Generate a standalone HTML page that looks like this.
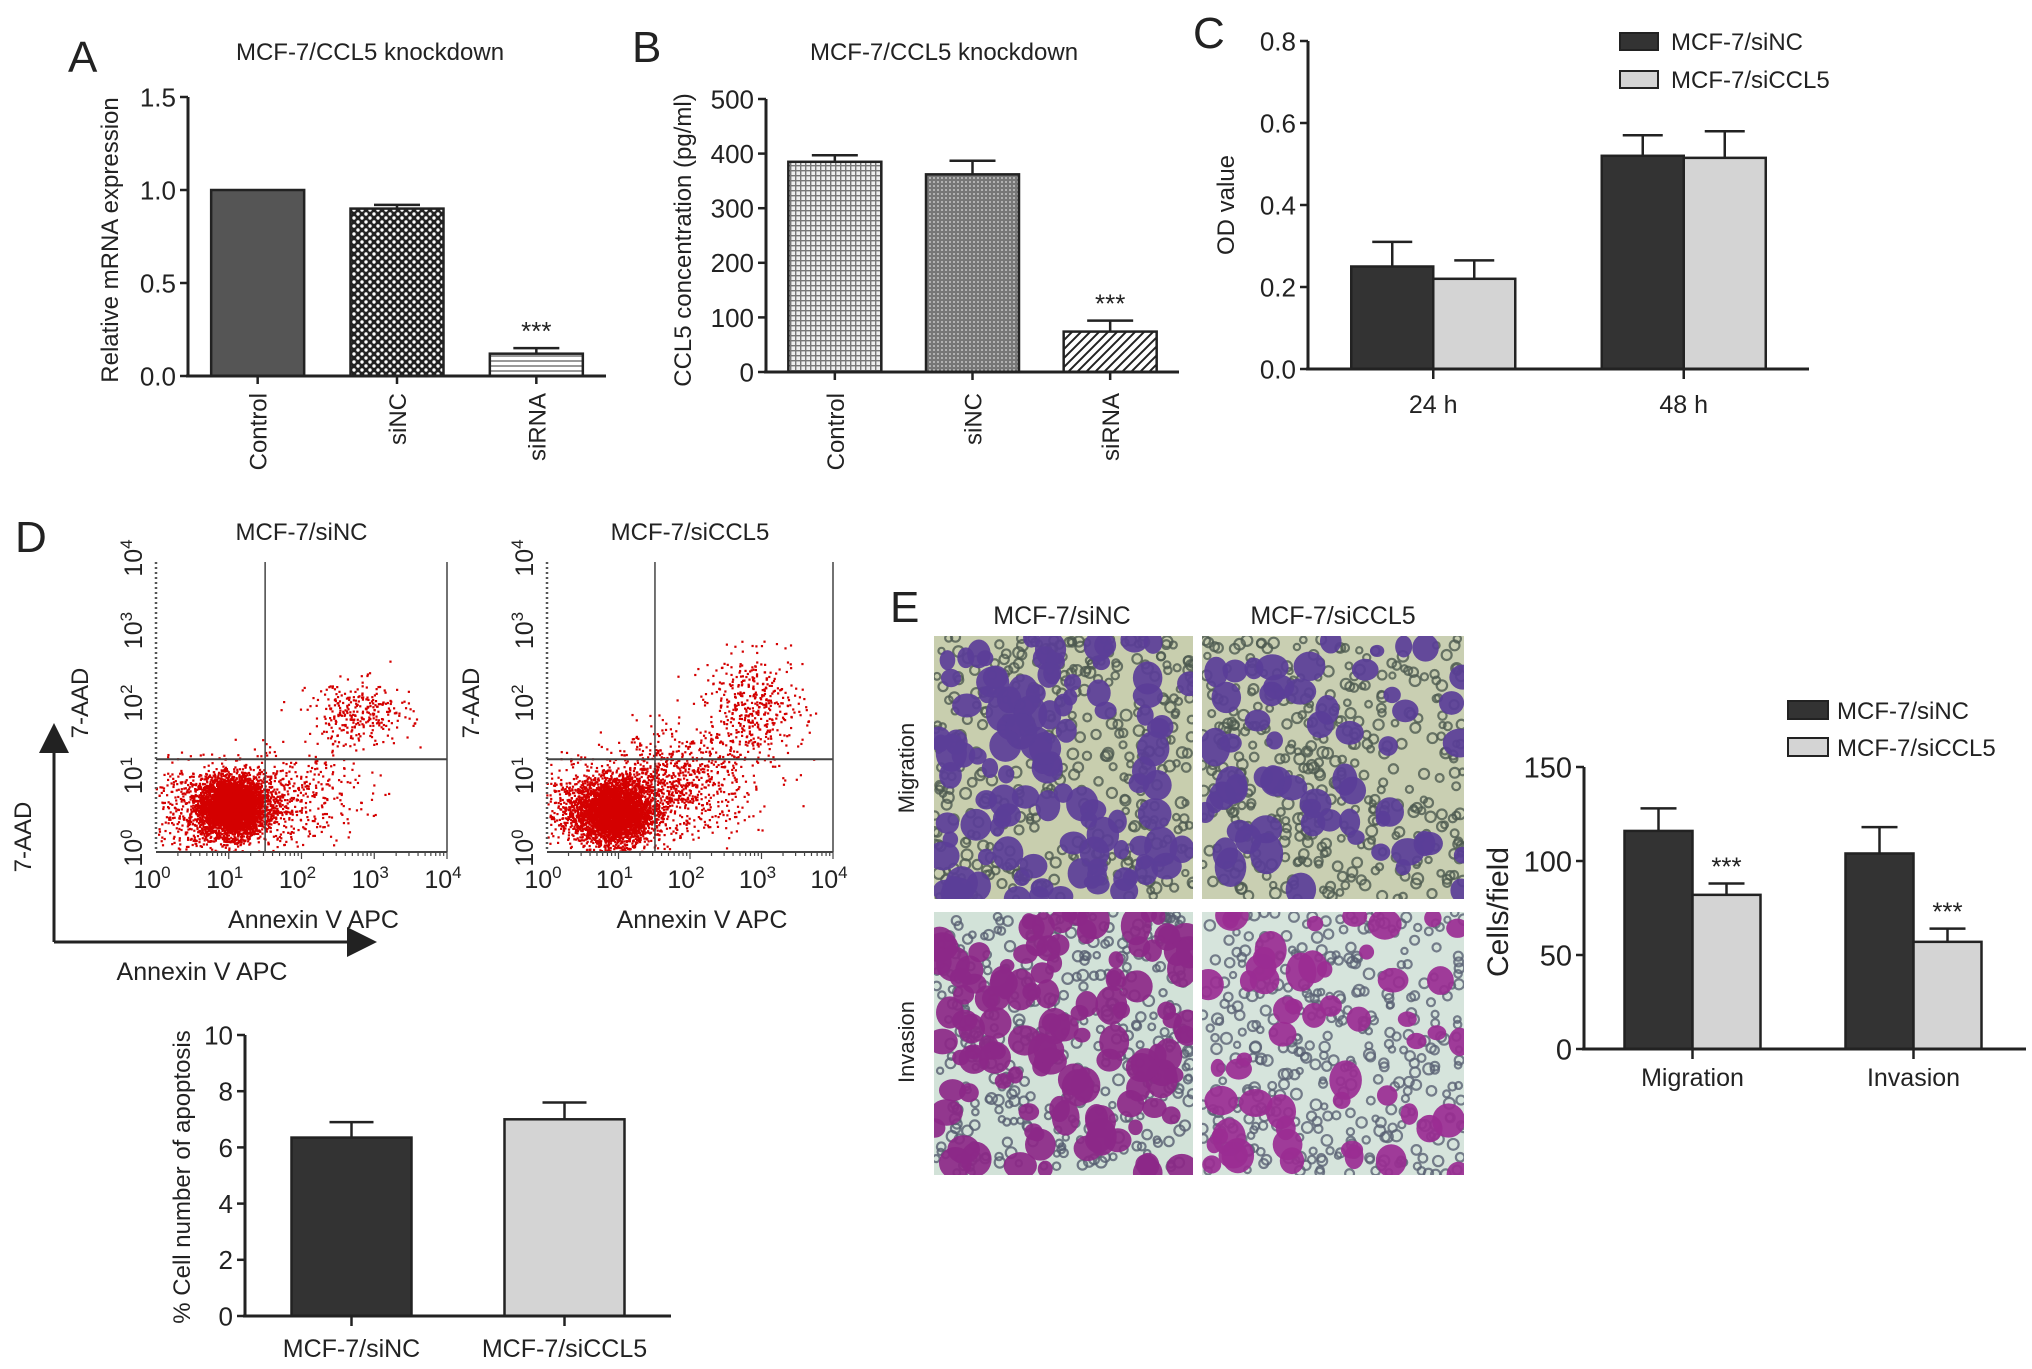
<!DOCTYPE html>
<html><head><meta charset="utf-8"><style>
html,body{margin:0;padding:0;background:#fff;}
svg{display:block;}
text{font-family:"Liberation Sans Narrow","Liberation Sans",sans-serif;fill:#222;}
.w{font-family:"Liberation Sans",sans-serif;}
</style></head><body>
<svg id="fig" width="2032" height="1369" viewBox="0 0 2032 1369" xmlns="http://www.w3.org/2000/svg">
<defs>
<pattern id="pChecker" width="8" height="8" patternUnits="userSpaceOnUse"><rect width="8" height="8" fill="#222"/><circle cx="2" cy="2" r="1.7" fill="#fff"/><circle cx="6" cy="6" r="1.7" fill="#fff"/></pattern>
<pattern id="pHstripe" width="6" height="5" patternUnits="userSpaceOnUse"><rect width="6" height="5" fill="#fff"/><rect y="0" width="6" height="2" fill="#999"/></pattern>
<pattern id="pGrid" width="5" height="5" patternUnits="userSpaceOnUse"><rect width="5" height="5" fill="#eee"/><rect width="5" height="1.4" fill="#777"/><rect width="1.4" height="5" fill="#777"/></pattern>
<pattern id="pDots" width="4" height="4" patternUnits="userSpaceOnUse"><rect width="4" height="4" fill="#777"/><circle cx="2" cy="2" r="0.9" fill="#ddd"/></pattern>
<pattern id="pDiag" width="9" height="9" patternUnits="userSpaceOnUse"><rect width="9" height="9" fill="#fff"/><path d="M-2,11 L11,-2 M-2,2 L2,-2 M7,11 L11,7" stroke="#222" stroke-width="2"/></pattern>
<marker id="arrow" markerWidth="10" markerHeight="10" refX="5" refY="5" orient="auto"><path d="M0,0 L10,5 L0,10 Z" fill="#222"/></marker>
</defs>
<g id="root"></g>
</svg>
<script>
// ---------- DATA ----------
const aCategories = ["Control","siNC","siRNA"];
const aValues = [1.0, 0.90, 0.12];
const aErrors = [0.0, 0.02, 0.03];
const aTicks = ["0.0","0.5","1.0","1.5"];
const bCategories = ["Control","siNC","siRNA"];
const bValues = [385, 362, 74];
const bErrors = [12, 25, 20];
const bTicks = ["0","100","200","300","400","500"];
const cGroups = ["24 h","48 h"];
const cSiNC = [0.25, 0.52];
const cSiNCErr = [0.06, 0.05];
const cSiCCL5 = [0.22, 0.515];
const cSiCCL5Err = [0.045, 0.065];
const cTicks = ["0.0","0.2","0.4","0.6","0.8"];
const dGroups = ["MCF-7/siNC","MCF-7/siCCL5"];
const dValues = [6.35, 7.0];
const dErrors = [0.55, 0.6];
const dTicks = ["0","2","4","6","8","10"];
const eGroups = ["Migration","Invasion"];
const eSiNC = [116, 104];
const eSiNCErr = [12, 14];
const eSiCCL5 = [82, 57];
const eSiCCL5Err = [6, 7];
const eTicks = ["0","50","100","150"];
// flow cytometry clusters: [log10 annexin, log10 7-AAD, sdX, sdY, count]
const flowNC = [[1.05,0.62,0.22,0.2,4200],[1.6,0.7,0.45,0.3,600],[2.8,1.9,0.35,0.22,300],[2.6,0.9,0.3,0.35,60],[0.5,0.6,0.3,0.3,400]];
const flowCCL5 = [[0.95,0.55,0.26,0.22,3800],[1.7,0.9,0.45,0.35,800],[2.9,2.0,0.35,0.35,420],[2.5,1.1,0.4,0.4,120],[0.4,0.6,0.3,0.3,400]];

// ---------- HELPERS ----------
const NS="http://www.w3.org/2000/svg";
const root=document.getElementById('root');
function el(tag,attrs,parent,txt){const e=document.createElementNS(NS,tag);for(const k in attrs)e.setAttribute(k,attrs[k]);if(txt!==undefined)e.textContent=txt;(parent||root).appendChild(e);return e;}
function grp(name){const g=el('g',{},root);return g;}
let seed=12345;function rnd(){seed=(seed*1103515245+12345)%2147483648;return seed/2147483648;}
function gauss(){let u=rnd()||1e-9,v=rnd();return Math.sqrt(-2*Math.log(u))*Math.cos(2*Math.PI*v);}

function yAxis(g,x,y0,yTop,ticks,max,fs,tickLen){
  const line=el('line',{x1:x,y1:y0,x2:x,y2:yTop,stroke:'#222','stroke-width':3},g);
  
  ticks.forEach(t=>{const v=parseFloat(t);const y=y0-(v/max)*(y0-yTop);
    el('line',{x1:x-tickLen,y1:y,x2:x,y2:y,stroke:'#222','stroke-width':2.5},g);
    const tx=el('text',{x:x-tickLen-4,y:y+fs*0.36,'font-size':fs,'text-anchor':'end'},g,t);
    });
}
function xAxis(g,x1,x2,y){const l=el('line',{x1:x1-2,y1:y,x2:x2,y2:y,stroke:'#222','stroke-width':3},g);
  }
function bar(g,x,w,y0,yv,fill,name){const r=el('rect',{x:x,y:yv,width:w,height:y0-yv,fill:fill,stroke:'#222','stroke-width':2.5},g);
  return r;}
function err(g,cx,yv,ye,cap){if(ye>=yv-0.5)return;el('line',{x1:cx,y1:yv,x2:cx,y2:ye,stroke:'#222','stroke-width':2.5},g);
  const c=el('line',{x1:cx-cap,y1:ye,x2:cx+cap,y2:ye,stroke:'#222','stroke-width':2.5},g);
  }
function stars(g,cx,y,fs){const s=el('text',{x:cx,y:y,'font-size':fs,'text-anchor':'middle'},g,'***');
  }
function label(g,x,y,txt,fs,name,opts){const a=Object.assign({x:x,y:y,'font-size':fs,'text-anchor':'middle'},opts||{});const t=el('text',a,g,txt);
  return t;}

// ---------- PANEL A ----------
(function(){const g=grp('panel-a');
  const X0=188,X1=606,Y0=376,YT=97,MAX=1.5;const sy=v=>Y0-(v/MAX)*(Y0-YT);
  label(g,68,72,'A',44,'panel-label-a',{'text-anchor':'start',class:'w'});
  label(g,370,60,'MCF-7/CCL5 knockdown',24,'chart-title-a');
  label(g,0,0,'Relative mRNA expression',24,'y-axis-title-a',{class:'w',transform:'translate(118,240) rotate(-90)'});
  yAxis(g,X0,Y0,YT,aTicks,MAX,26,8);
  const fills=['#555','url(#pChecker)','url(#pHstripe)'];const band=(X1-X0)/3,w=93;
  aCategories.forEach((c,i)=>{const cx=X0+band*(i+0.5);
    bar(g,cx-w/2,w,Y0,sy(aValues[i]),fills[i],'bar-'+c.toLowerCase());
    err(g,cx,sy(aValues[i]),sy(aValues[i]+aErrors[i]),23);
    el('line',{x1:cx,y1:Y0,x2:cx,y2:Y0+8,stroke:'#222','stroke-width':2.5},g);
    label(g,0,0,c,24,'x-tick-label',{class:'w','text-anchor':'end',transform:`translate(${cx+9},393) rotate(-90)`});
  });
  stars(g,X0+band*2.5,sy(aValues[2]+aErrors[2])-8,26);
  xAxis(g,X0,X1,Y0);
})();

// ---------- PANEL B ----------
(function(){const g=grp('panel-b');
  const X0=766,X1=1179,Y0=372,YT=99,MAX=500;const sy=v=>Y0-(v/MAX)*(Y0-YT);
  label(g,632,62,'B',44,'panel-label-b',{'text-anchor':'start',class:'w'});
  label(g,944,60,'MCF-7/CCL5 knockdown',24,'chart-title-b');
  label(g,0,0,'CCL5 concentration (pg/ml)',24,'y-axis-title-b',{class:'w',transform:'translate(691,240) rotate(-90)'});
  yAxis(g,X0,Y0,YT,bTicks,MAX,26,8);
  const fills=['url(#pGrid)','url(#pDots)','url(#pDiag)'];const band=(X1-X0)/3,w=93;
  bCategories.forEach((c,i)=>{const cx=X0+band*(i+0.5);
    bar(g,cx-w/2,w,Y0,sy(bValues[i]),fills[i],'bar-'+c.toLowerCase());
    err(g,cx,sy(bValues[i]),sy(bValues[i]+bErrors[i]),23);
    el('line',{x1:cx,y1:Y0,x2:cx,y2:Y0+8,stroke:'#222','stroke-width':2.5},g);
    label(g,0,0,c,24,'x-tick-label',{class:'w','text-anchor':'end',transform:`translate(${cx+9},393) rotate(-90)`});
  });
  stars(g,X0+band*2.5,sy(bValues[2]+bErrors[2])-8,26);
  xAxis(g,X0,X1,Y0);
})();

// ---------- PANEL C ----------
(function(){const g=grp('panel-c');
  const X0=1308,X1=1809,Y0=369,YT=41,MAX=0.8;const sy=v=>Y0-(v/MAX)*(Y0-YT);
  label(g,1193,48,'C',44,'panel-label-c',{'text-anchor':'start',class:'w'});
  label(g,0,0,'OD value',24,'y-axis-title-c',{class:'w',transform:'translate(1234,205) rotate(-90)'});
  yAxis(g,X0,Y0,YT,cTicks,MAX,26,8);
  const band=(X1-X0)/2,w=82;
  cGroups.forEach((c,i)=>{const cx=X0+band*(i+0.5);
    bar(g,cx-w,w,Y0,sy(cSiNC[i]),'#333','bar-sinc-'+i);
    err(g,cx-w/2,sy(cSiNC[i]),sy(cSiNC[i]+cSiNCErr[i]),20);
    bar(g,cx,w,Y0,sy(cSiCCL5[i]),'#d4d4d4','bar-siccl5-'+i);
    err(g,cx+w/2,sy(cSiCCL5[i]),sy(cSiCCL5[i]+cSiCCL5Err[i]),20);
    el('line',{x1:cx,y1:Y0,x2:cx,y2:Y0+10,stroke:'#222','stroke-width':2.5},g);
    label(g,cx,413,c,25,'x-tick-label');
  });
  xAxis(g,X0,X1,Y0);
  const l1=el('rect',{x:1620,y:33,width:38,height:17,fill:'#333',stroke:'#222','stroke-width':2},g);
  label(g,1671,50,'MCF-7/siNC',24,'legend-entry',{'text-anchor':'start'});
  const l2=el('rect',{x:1620,y:71,width:38,height:17,fill:'#d4d4d4',stroke:'#222','stroke-width':2},g);
  label(g,1671,88,'MCF-7/siCCL5',24,'legend-entry',{'text-anchor':'start'});
})();

// ---------- PANEL D FLOW ----------
function flowPlot(name,X0,X1,qx,title,clusters){const g=grp(name);
  const Y0=852,YT=562;const sx=l=>X0+l/4*(X1-X0),sy=l=>Y0-l/4*(Y0-YT);
  label(g,(X0+X1)/2,540,title,24,'flow-title');
  clusters.forEach(c=>{for(let k=0;k<c[4];k++){const lx=c[0]+gauss()*c[2],ly=c[1]+gauss()*c[3];
    if(lx<0||lx>4||ly<0||ly>4)continue;el('rect',{x:sx(lx)-1,y:sy(ly)-1,width:2.2,height:2.2,fill:'#d40000'},g);}});
  el('line',{x1:X0,y1:YT,x2:X0,y2:Y0,stroke:'#555','stroke-width':2.5,'stroke-dasharray':'2 3'},g);
  el('line',{x1:X0,y1:Y0,x2:X1,y2:Y0,stroke:'#444','stroke-width':2},g);
  el('line',{x1:X1,y1:YT,x2:X1,y2:Y0,stroke:'#444','stroke-width':1.5},g);
  el('line',{x1:sx(qx),y1:YT,x2:sx(qx),y2:Y0,stroke:'#444','stroke-width':1.5},g);
  el('line',{x1:X0,y1:sy(1.28),x2:X1,y2:sy(1.28),stroke:'#444','stroke-width':2},g);
  for(let d=0;d<4;d++)for(let m=2;m<=10;m++){const x=sx(d+Math.log10(m));el('line',{x1:x,y1:Y0,x2:x,y2:Y0+(m==10?7:4),stroke:'#444','stroke-width':1.2},g);}
  for(let d=0;d<=4;d++){const t=el('text',{x:sx(d)-4,y:Y0+36,'font-size':25,'text-anchor':'middle'},g);
    el('tspan',{},t,'10');el('tspan',{dy:-10,'font-size':17},t,String(d));
    const ty=el('text',{'font-size':25,'text-anchor':'middle',transform:`translate(${X0-14},${sy(d)-4}) rotate(-90)`},g);
    el('tspan',{},ty,'10');el('tspan',{dy:-10,'font-size':17},ty,String(d));}
  label(g,(X0+X1)/2+12,928,'Annexin V APC',25,'x-axis-title');
  label(g,0,0,'7-AAD',24,'y-axis-title',{class:'w',transform:`translate(${X0-68},703) rotate(-90)`});
}
(function(){
  const g=grp('panel-d-labels');label(g,15,552,'D',44,'panel-label-d',{'text-anchor':'start',class:'w'});
  flowPlot('flow-plot-sinc',156,447,1.5,'MCF-7/siNC',flowNC);
  flowPlot('flow-plot-siccl5',547,833,1.51,'MCF-7/siCCL5',flowCCL5);
  const a=grp('axis-arrows');
  el('line',{x1:54,y1:942,x2:54,y2:738,stroke:'#222','stroke-width':3,'marker-end':'url(#arrow)'},a);
  el('line',{x1:54,y1:942,x2:362,y2:942,stroke:'#222','stroke-width':3,'marker-end':'url(#arrow)'},a);
  label(a,0,0,'7-AAD',24,'arrow-y-label',{class:'w',transform:'translate(31,837) rotate(-90)'});
  label(a,202,980,'Annexin V APC',25,'arrow-x-label');
})();

// ---------- PANEL D BAR ----------
(function(){const g=grp('panel-d-bar');
  const X0=245,X1=671,Y0=1316,YT=1035,MAX=10;const sy=v=>Y0-(v/MAX)*(Y0-YT);
  label(g,0,0,'% Cell number of apoptosis',24,'y-axis-title-d',{class:'w',transform:'translate(190,1177) rotate(-90)'});
  yAxis(g,X0,Y0,YT,dTicks,MAX,26,8);
  const fills=['#333','#d4d4d4'];const band=(X1-X0)/2,w=120;
  dGroups.forEach((c,i)=>{const cx=X0+band*(i+0.5);
    bar(g,cx-w/2,w,Y0,sy(dValues[i]),fills[i],'bar-'+c.toLowerCase().replace('/','-'));
    err(g,cx,sy(dValues[i]),sy(dValues[i]+dErrors[i]),22);
    el('line',{x1:cx,y1:Y0,x2:cx,y2:Y0+10,stroke:'#222','stroke-width':2.5},g);
    label(g,cx,1357,c,25,'x-tick-label');});
  xAxis(g,X0,X1,Y0);
})();

// ---------- PANEL E IMAGES ----------
function micro(name,x,y,w,h,bg,cell,small,nCells){const g=grp(name);
  el('rect',{x:x,y:y,width:w,height:h,fill:bg},g);
  const cp=el('clipPath',{id:'cp-'+name},g);el('rect',{x:x,y:y,width:w,height:h},cp);
  const inner=el('g',{'clip-path':`url(#cp-${name})`},g);
  for(let k=0;k<380;k++){el('circle',{cx:x+rnd()*w,cy:y+rnd()*h,r:3+rnd()*2.5,fill:'none',stroke:small,'stroke-width':2.2,opacity:0.8},inner);}
  for(let k=0;k<nCells;k++){const cx=x+rnd()*w,cy=y+rnd()*h,r=7+rnd()*10;
    el('ellipse',{cx:cx,cy:cy,rx:r,ry:r*(0.8+rnd()*0.5),fill:cell,opacity:0.92},inner);}
}
(function(){const g=grp('panel-e-labels');
  label(g,890,622,'E',44,'panel-label-e',{'text-anchor':'start',class:'w'});
  label(g,1062,624,'MCF-7/siNC',25,'image-col-title');
  label(g,1333,624,'MCF-7/siCCL5',25,'image-col-title');
  label(g,0,0,'Migration',22,'image-row-title',{class:'w',transform:'translate(914,768) rotate(-90)'});
  label(g,0,0,'Invasion',22,'image-row-title',{class:'w',transform:'translate(914,1042) rotate(-90)'});
})();
micro('image-migration-sinc',934,636,259,263,'#c8ceae','#5b3e98','#4e5a50',110);
micro('image-migration-siccl5',1202,636,262,263,'#c9cfb2','#5a3e98','#4e5a50',60);
micro('image-invasion-sinc',934,912,259,263,'#d2e2d8','#8c2888','#565e70',120);
micro('image-invasion-siccl5',1202,912,262,263,'#d6e4dc','#9a2c92','#5a6274',55);

// ---------- PANEL E BAR ----------
(function(){const g=grp('panel-e-bar');
  const X0=1584,X1=2026,Y0=1049,YT=767,MAX=150;const sy=v=>Y0-(v/MAX)*(Y0-YT);
  label(g,0,0,'Cells/field',30,'y-axis-title-e',{class:'w',transform:'translate(1508,912) rotate(-90)'});
  yAxis(g,X0,Y0,YT,eTicks,MAX,29,8);
  const band=(X1-X0)/2,w=68;
  eGroups.forEach((c,i)=>{const cx=X0+6+band*(i+0.5)-8;
    bar(g,cx-w,w,Y0,sy(eSiNC[i]),'#333','bar-sinc-'+c.toLowerCase());
    err(g,cx-w/2,sy(eSiNC[i]),sy(eSiNC[i]+eSiNCErr[i]),18);
    bar(g,cx,w,Y0,sy(eSiCCL5[i]),'#d4d4d4','bar-siccl5-'+c.toLowerCase());
    err(g,cx+w/2,sy(eSiCCL5[i]),sy(eSiCCL5[i]+eSiCCL5Err[i]),18);
    stars(g,cx+w/2,sy(eSiCCL5[i]+eSiCCL5Err[i])-8,26);
    el('line',{x1:cx,y1:Y0,x2:cx,y2:Y0+10,stroke:'#222','stroke-width':2.5},g);
    label(g,cx,1086,c,25,'x-tick-label');});
  xAxis(g,X0,X1,Y0);
  const l1=el('rect',{x:1788,y:701,width:40,height:18,fill:'#333',stroke:'#222','stroke-width':2},g);
  label(g,1837,719,'MCF-7/siNC',24,'legend-entry',{'text-anchor':'start'});
  const l2=el('rect',{x:1788,y:738,width:40,height:18,fill:'#d4d4d4',stroke:'#222','stroke-width':2},g);
  label(g,1837,756,'MCF-7/siCCL5',24,'legend-entry',{'text-anchor':'start'});
})();
</script>
</body></html>
